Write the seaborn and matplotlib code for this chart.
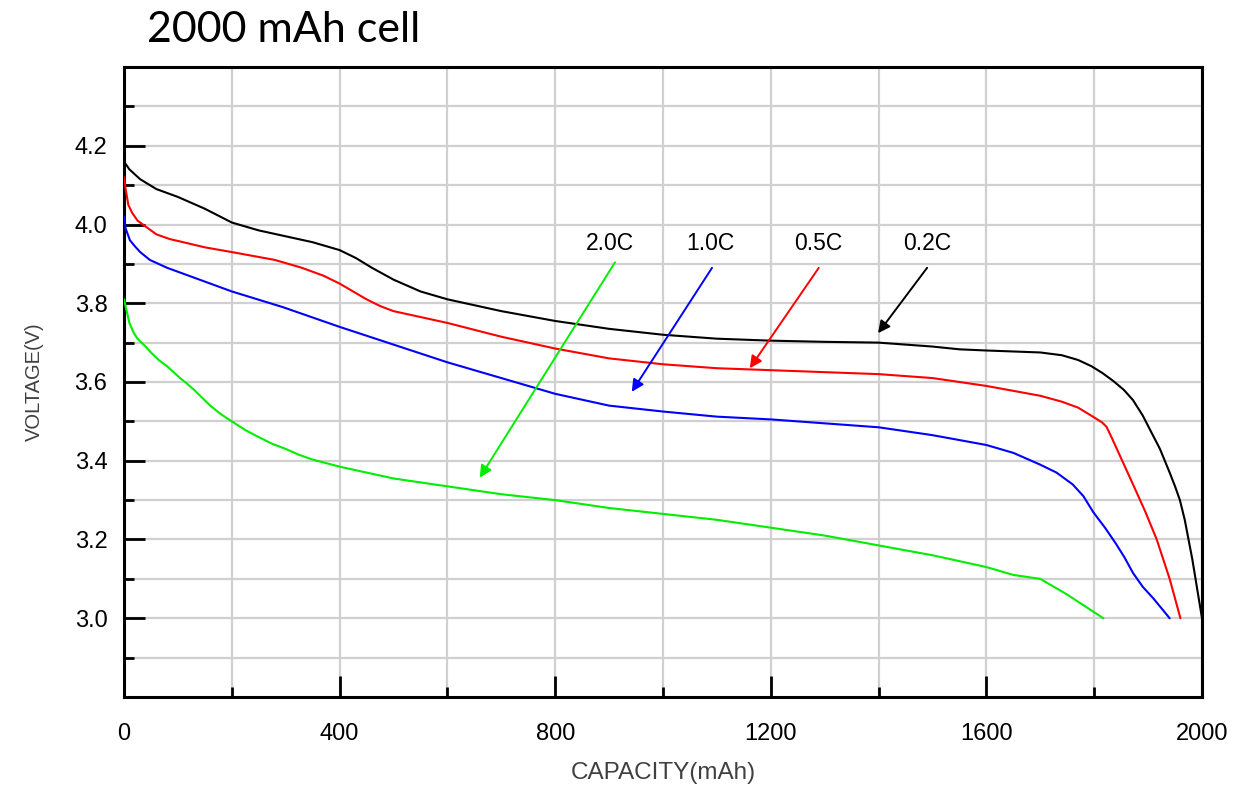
import matplotlib
matplotlib.use("Agg")
import matplotlib.pyplot as plt
import seaborn as sns
import pandas as pd
from matplotlib.ticker import MultipleLocator, FixedLocator

# ---- data ----
cap_02 = [0, 10, 30, 60, 100, 150, 200, 250, 300, 350, 400, 430, 460, 500, 550, 600, 700, 800,
          900, 1000, 1100, 1200, 1300, 1400, 1500, 1550, 1600, 1700, 1740, 1770, 1795, 1815, 1835,
          1855, 1872, 1890, 1905, 1922, 1940, 1950, 1959, 1968, 1975, 1982, 1988, 1994, 2000]
v_02 = [4.16, 4.14, 4.115, 4.09, 4.07, 4.04, 4.005, 3.985, 3.97, 3.955, 3.935, 3.915, 3.89, 3.86,
        3.83, 3.81, 3.78, 3.755, 3.735, 3.72, 3.71, 3.705, 3.702, 3.70, 3.69, 3.683, 3.68, 3.675,
        3.668, 3.656, 3.64, 3.623, 3.603, 3.58, 3.554, 3.515, 3.475, 3.43, 3.37, 3.335, 3.30,
        3.25, 3.20, 3.15, 3.10, 3.05, 3.0]

cap_05 = [0, 3, 8, 15, 25, 35, 60, 85, 110, 150, 200, 240, 280, 330, 370, 400, 425, 450, 475,
          500, 550, 600, 700, 800, 900, 1000, 1100, 1200, 1400, 1500, 1600, 1700, 1740, 1770,
          1800, 1815, 1823, 1832, 1842, 1857, 1872, 1895, 1916, 1940, 1960]
v_05 = [4.12, 4.09, 4.05, 4.03, 4.01, 4.0, 3.975, 3.963, 3.955, 3.942, 3.93, 3.92, 3.91, 3.89,
        3.87, 3.85, 3.83, 3.81, 3.793, 3.78, 3.765, 3.75, 3.715, 3.685, 3.66, 3.645, 3.635, 3.63,
        3.62, 3.61, 3.59, 3.565, 3.55, 3.535, 3.51, 3.497, 3.486, 3.46, 3.43, 3.385, 3.34, 3.27,
        3.20, 3.10, 3.0]

cap_10 = [0, 3, 11, 20, 30, 48, 80, 110, 150, 200, 295, 400, 500, 600, 700, 800, 900, 1000,
          1100, 1200, 1300, 1400, 1500, 1600, 1650, 1700, 1730, 1760, 1780, 1798, 1820, 1840,
          1856, 1872, 1890, 1910, 1940]
v_10 = [4.02, 3.99, 3.96, 3.945, 3.93, 3.91, 3.89, 3.875, 3.855, 3.83, 3.79, 3.74, 3.695, 3.65,
        3.61, 3.57, 3.54, 3.525, 3.512, 3.505, 3.495, 3.485, 3.465, 3.44, 3.42, 3.39, 3.37, 3.34,
        3.31, 3.27, 3.23, 3.19, 3.155, 3.115, 3.08, 3.05, 3.0]

cap_20 = [0, 5, 10, 18, 25, 40, 50, 65, 80, 104, 115, 130, 145, 160, 180, 200, 225, 250, 275,
          300, 325, 350, 400, 500, 600, 700, 800, 900, 1000, 1100, 1200, 1300, 1400, 1500, 1600,
          1650, 1700, 1750, 1817]
v_20 = [3.81, 3.78, 3.75, 3.725, 3.71, 3.69, 3.675, 3.655, 3.64, 3.61, 3.598, 3.58, 3.56, 3.54,
        3.518, 3.50, 3.478, 3.46, 3.443, 3.43, 3.415, 3.403, 3.385, 3.355, 3.335, 3.315, 3.30,
        3.28, 3.265, 3.25, 3.23, 3.21, 3.185, 3.16, 3.13, 3.11, 3.10, 3.06, 3.0]

rates = ["0.2C", "0.5C", "1.0C", "2.0C"]
colors = ["#000000", "#ff0000", "#0000ff", "#00ee00"]

# label position / arrow start / arrow tip (capacity, voltage)
label_x = [1490, 1288, 1087, 902]
label_y = [3.952, 3.952, 3.952, 3.952]
arrow_start = [(1490, 3.89), (1289, 3.89), (1091, 3.89), (911, 3.904)]
arrow_tip = [(1399, 3.724), (1161, 3.635), (942, 3.575), (660, 3.357)]

x_ticks = [0, 400, 800, 1200, 1600, 2000]
y_ticks = [3.0, 3.2, 3.4, 3.6, 3.8, 4.0, 4.2]

frames = []
for r, cx, vy in zip(rates, [cap_02, cap_05, cap_10, cap_20], [v_02, v_05, v_10, v_20]):
    frames.append(pd.DataFrame({"capacity": cx, "voltage": vy, "rate": r}))
df = pd.concat(frames, ignore_index=True)

# ---- plot ----
sns.set_style("white")
plt.rcParams["font.family"] = ["Liberation Sans", "DejaVu Sans"]

fig = plt.figure(figsize=(12.48, 7.94), dpi=100)
ax = fig.add_axes([124 / 1248, 1 - 697 / 794, (1202 - 124) / 1248, (697 - 67) / 794])

sns.lineplot(data=df, x="capacity", y="voltage", hue="rate", hue_order=rates,
             palette=dict(zip(rates, colors)), sort=False, estimator=None,
             linewidth=1.5, legend=False, ax=ax, zorder=3)

ax.set_xlim(0, 2000)
ax.set_ylim(2.8, 4.4)
ax.xaxis.set_major_locator(FixedLocator(x_ticks))
ax.xaxis.set_minor_locator(MultipleLocator(200))
ax.yaxis.set_major_locator(FixedLocator(y_ticks))
ax.yaxis.set_minor_locator(FixedLocator([2.9, 3.1, 3.3, 3.5, 3.7, 3.9, 4.1, 4.3]))
ax.set_xticklabels([str(t) for t in x_ticks])
ax.set_yticklabels([f"{t:.1f}" for t in y_ticks])

ax.grid(True, which="both", color="#d0d0d0", linewidth=1.6, zorder=0)
ax.set_axisbelow(True)

ax.tick_params(axis="both", which="both", bottom=True, left=True, top=False, right=False)
ax.tick_params(axis="both", which="major", direction="in", length=15, width=2,
               labelsize=17, color="black", labelcolor="black")
ax.tick_params(axis="both", which="minor", direction="in", length=7.5, width=2, color="black")
ax.tick_params(axis="x", which="major", pad=19)
ax.tick_params(axis="y", which="major", pad=12)

for s in ax.spines.values():
    s.set_visible(True)
    s.set_color("black")
    s.set_linewidth(2.2)

ax.set_xlabel("CAPACITY(mAh)", fontsize=17.5, color="#404040", labelpad=12)
ax.set_ylabel("VOLTAGE(V)", fontsize=14.5, color="#404040", labelpad=22)

for r, c, lx, ly, st, tp in zip(rates, colors, label_x, label_y, arrow_start, arrow_tip):
    ax.text(lx, ly, r, fontsize=16.5, ha="center", va="center", color="black", zorder=5)
    ax.annotate("", xy=tp, xytext=st,
                arrowprops=dict(arrowstyle="-|>", color=c, lw=1.4,
                                mutation_scale=18, shrinkA=0, shrinkB=0), zorder=5)

fig.text(147 / 1248, 1 - 42 / 794, "2000 mAh cell", fontsize=31, va="baseline", ha="left",
         family=["Lato", "DejaVu Sans"], color="black")

fig.savefig("out.png", dpi=100)
